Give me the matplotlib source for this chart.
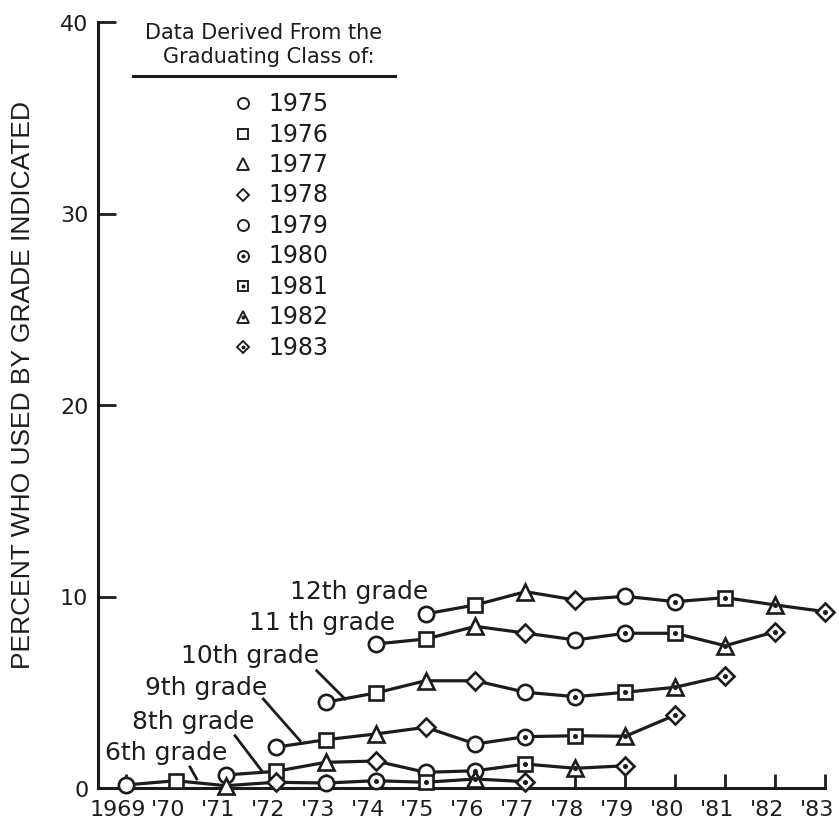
import matplotlib
matplotlib.use("Agg")
import matplotlib.pyplot as plt
import matplotlib.transforms as mtransforms
import numpy as np

# ---------------- data ----------------
grade_labels = ["12th grade", "11 th grade", "10th grade", "9th grade", "8th grade", "6th grade"]
grade_levels = [12, 11, 10, 9, 8, 6]
start_years = [1975, 1974, 1973, 1972, 1971, 1969]

pct_12 = [9.09, 9.56, 10.25, 9.82, 10.01, 9.73, 9.94, 9.56, 9.21]
pct_11 = [7.52, 7.78, 8.44, 8.09, 7.73, 8.08, 8.08, 7.43, 8.16]
pct_10 = [4.48, 4.96, 5.60, 5.60, 5.00, 4.77, 5.00, 5.26, 5.86]
pct_9 = [2.13, 2.52, 2.82, 3.17, 2.30, 2.68, 2.73, 2.70, 3.81]
pct_8 = [0.68, 0.87, 1.34, 1.41, 0.82, 0.90, 1.25, 1.03, 1.16]
pct_6 = [0.16, 0.38, 0.12, 0.30, 0.26, 0.38, 0.30, 0.47, 0.33]
grade_values = [pct_12, pct_11, pct_10, pct_9, pct_8, pct_6]

class_years = [1975, 1976, 1977, 1978, 1979, 1980, 1981, 1982, 1983]
class_markers = ["o", "s", "^", "D", "o", "o", "s", "^", "D"]
class_dotted = [False, False, False, False, False, True, True, True, True]

x_ticks = list(range(1969, 1984))
x_ticklabels = ["1969"] + ["'" + str(y)[2:] for y in range(1970, 1984)]
y_ticks = [0, 10, 20, 30, 40]

# ---------------- layout ----------------
W, H = 839, 828
X0_PX, XSTEP_PX = 126, 49.93      # pixel of 1969, pixels per year
Y0_PX, YSTEP_PX = 789, 19.15      # pixel of 0 %, pixels per %
AX_L, AX_R, AX_T = 98, 825, 23

def px2data(px, py):
    return 1969 + (px - X0_PX) / XSTEP_PX, (Y0_PX - py) / YSTEP_PX

INK = "#1c1c1c"
FONT = "DejaVu Sans"

fig = plt.figure(figsize=(W / 100, H / 100), dpi=100)
fig.patch.set_facecolor("white")
ax = fig.add_axes([AX_L / W, (H - Y0_PX) / H, (AX_R - AX_L) / W, (Y0_PX - AX_T) / H])
ax.set_xlim(px2data(AX_L, 0)[0], 1983)
ax.set_ylim(0, 40)

for s in ["top", "right"]:
    ax.spines[s].set_visible(False)
for s in ["left", "bottom"]:
    ax.spines[s].set_linewidth(2.2)
    ax.spines[s].set_color(INK)

ax.set_xticks(x_ticks)
ax.set_xticklabels(x_ticklabels, fontsize=16, family=FONT, color=INK)
ax.set_yticks(y_ticks)
ax.set_yticklabels([str(v) for v in y_ticks], fontsize=16, family=FONT, color=INK)
ax.tick_params(axis="y", direction="in", length=13, width=2, pad=7, colors=INK)
ax.tick_params(axis="x", direction="in", length=10, width=2, pad=8, colors=INK)
shift = mtransforms.ScaledTranslation(-8 / 100, 0, fig.dpi_scale_trans)
for lab in ax.get_xticklabels():
    lab.set_transform(lab.get_transform() + shift)

ax.set_ylabel("PERCENT WHO USED BY GRADE INDICATED", fontsize=19,
              family="Liberation Sans", color=INK)
ax.yaxis.set_label_coords((35 - AX_L) / (AX_R - AX_L), (Y0_PX - 385) / (Y0_PX - AX_T))

MS = {"o": 11, "s": 10, "^": 12, "D": 9}

def draw_marker(x, y, cls_idx, scale=1.0, z=5):
    m = class_markers[cls_idx]
    ax.plot([x], [y], marker=m, ms=MS[m] * scale, mfc="white", mec=INK,
            mew=1.9 * scale, ls="none", zorder=z, clip_on=False)
    if class_dotted[cls_idx]:
        ax.plot([x], [y], marker="o", ms=2.6 * scale, mfc=INK, mec=INK,
                ls="none", zorder=z + 0.1, clip_on=False)

for lvl, start, vals in zip(grade_levels, start_years, grade_values):
    yrs = np.arange(start, start + len(vals))
    ax.plot(yrs, vals, color=INK, lw=2.3, zorder=3, clip_on=False,
            solid_joinstyle="round")
    for yr, v in zip(yrs, vals):
        cls = yr + (12 - lvl)
        draw_marker(yr, v, class_years.index(cls))

# grade labels
label_pos_px = [(290, 592), (249, 623), (181, 656), (145, 688), (132, 722), (105, 753)]
for txt, (px, py) in zip(grade_labels, label_pos_px):
    x, y = px2data(px, py)
    ax.text(x, y, txt, fontsize=18, family=FONT, color=INK, ha="left", va="center",
            zorder=6, clip_on=False)

pointers_px = [((316.7, 671.7), (345, 700)), ((263.3, 700), (300, 741.7)),
               ((235, 736.7), (261.7, 771.7)), ((190, 768), (196.7, 780))]
for (p1, p2) in pointers_px:
    a = px2data(*p1); b = px2data(*p2)
    ax.plot([a[0], b[0]], [a[1], b[1]], color=INK, lw=2, zorder=2.5)

# legend block
tx, ty = px2data(264, 33)
ax.text(tx, ty, "Data Derived From the", fontsize=15, family=FONT, color=INK,
        ha="center", va="center")
tx, ty = px2data(269, 57)
ax.text(tx, ty, "Graduating Class of:", fontsize=15, family=FONT, color=INK,
        ha="center", va="center")
a = px2data(133, 77); b = px2data(395, 77)
ax.plot([a[0], b[0]], [a[1], b[1]], color=INK, lw=2.2)

for i, cy in enumerate(class_years):
    py = 104 + i * 30.5
    mx, my = px2data(243, py)
    draw_marker(mx, my, i, scale=0.72)
    lx, ly = px2data(268, py)
    ax.text(lx, ly, str(cy), fontsize=17, family=FONT, color=INK, ha="left", va="center")

fig.savefig("out.png", dpi=100, facecolor="white")
